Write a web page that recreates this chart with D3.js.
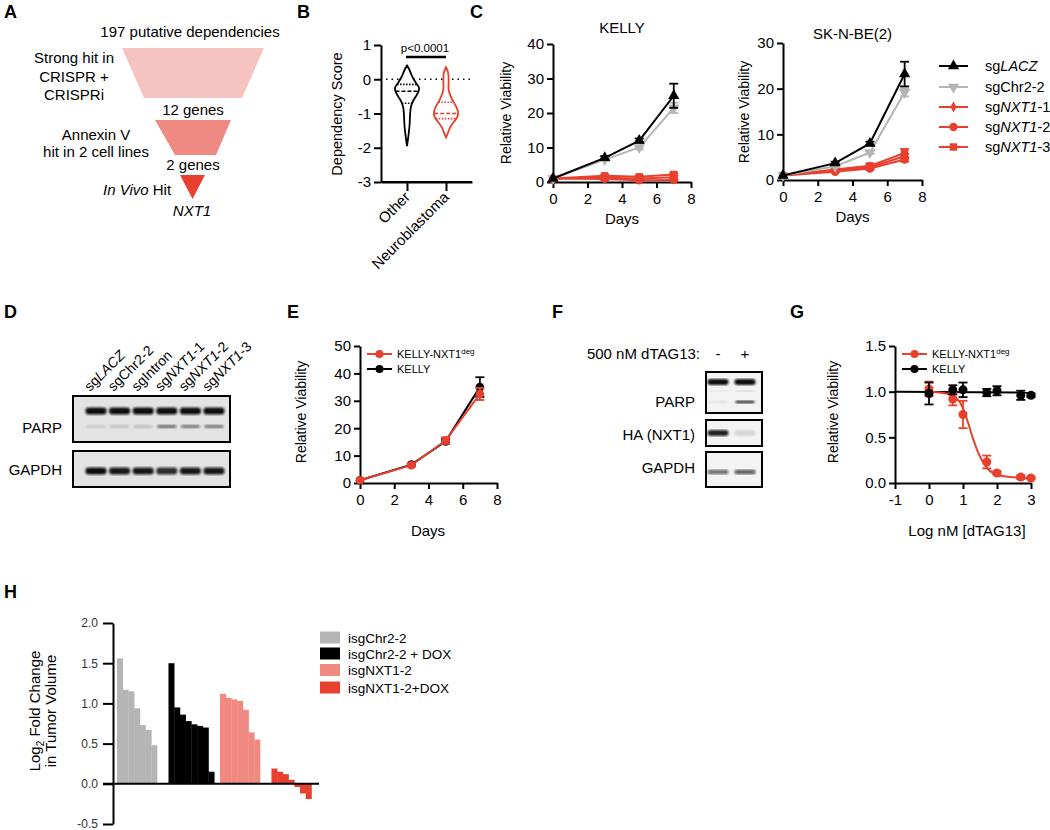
<!DOCTYPE html>
<html><head><meta charset="utf-8">
<script src="https://cdn.jsdelivr.net/npm/d3@7"></script>
<style>body{margin:0;background:#fff}svg{display:block}text{font-family:"Liberation Sans",Arial,sans-serif}</style>
</head><body>
<svg id="c" width="1050" height="830"></svg>
<script>
// ---------------- DATA ----------------
// Panel A funnel labels
const funnelTop = "197 putative dependencies";
const funnelStep1 = ["Strong hit in","CRISPR +","CRISPRi"];
const funnelCount1 = "12 genes";
const funnelStep2 = ["Annexin V","hit in 2 cell lines"];
const funnelCount2 = "2 genes";
// Panel B violins: [score, relative density]
const bCategories = ["Other","Neuroblastoma"];
const bOtherProfile = [[0.4,0],[0.3,0.17],[0.15,0.35],[0.05,0.48],[-0.1,0.74],[-0.25,1.0],[-0.35,0.96],[-0.5,0.74],[-0.65,0.48],[-0.8,0.33],[-1.0,0.26],[-1.3,0.22],[-1.5,0.17],[-1.7,0.1],[-1.95,0]];
const bNbProfile = [[0.35,0],[0.2,0.17],[0.0,0.22],[-0.3,0.22],[-0.5,0.4],[-0.65,0.6],[-0.8,0.85],[-0.95,1.0],[-1.1,0.95],[-1.25,0.65],[-1.4,0.35],[-1.55,0.18],[-1.7,0]];
const bOtherQuartiles = [-0.15,-0.35,-0.7];
const bNbQuartiles = [-0.67,-1.0,-1.15];
const bTicks = [1,0,-1,-2,-3];
const bPvalue = "p<0.0001";
// Panel C
const cDays = [0,3,5,7];
const cSeriesNames = ["sgLACZ","sgChr2-2","sgNXT1-1","sgNXT1-2","sgNXT1-3"];
const kellyLACZ = [1,7,12,25],      kellyLACZErr = [0,0.5,0.6,3.5];
const kellyChr2 = [1,6.5,10,21.5],  kellyChr2Err = [0,0.4,0.5,1.5];
const kellyNXT1_1 = [1,1.2,1.0,1.4], kellyNXT1_1Err = [0,0.3,0.3,0.4];
const kellyNXT1_2 = [1,0.9,0.5,0.6], kellyNXT1_2Err = [0,0.3,0.3,0.3];
const kellyNXT1_3 = [1,1.8,1.5,2.2], kellyNXT1_3Err = [0,0.3,0.3,0.4];
const skLACZ = [1,3.7,8.0,23.2],    skLACZErr = [0,0.3,0.4,2.7];
const skChr2 = [1,3.0,6.0,19.2],    skChr2Err = [0,0.2,0.3,0.9];
const skNXT1_1 = [1,2.1,2.8,5.2],   skNXT1_1Err = [0,0.2,0.3,0.5];
const skNXT1_2 = [1,1.8,2.5,4.5],   skNXT1_2Err = [0,0.2,0.3,0.5];
const skNXT1_3 = [1,2.3,3.1,5.9],   skNXT1_3Err = [0,0.3,0.4,0.9];
const kellyYTicks = [0,10,20,30,40];
const skYTicks = [0,10,20,30];
const dayTicks = [0,2,4,6,8];
// Panel D blot
const dLanes = ["sgLACZ","sgChr2-2","sgIntron","sgNXT1-1","sgNXT1-2","sgNXT1-3"];
const dParpFull = [1,1,1,1,1,1];
const dParpCleaved = [0.12,0.14,0.16,0.55,0.5,0.5];
const dGapdh = [1,0.95,0.95,0.85,0.95,0.95];
// Panel E
const eDays = [0,3,5,7];
const eDeg = [1,6.5,15.5,32.5], eDegErr = [0,0.5,1.2,2.2];
const eKelly = [1,6.7,15.2,35],   eKellyErr = [0,0.4,0.8,3.6];
const eYTicks = [0,10,20,30,40,50];
// Panel F blot
const fLanes = ["-","+"];
const fParpFull = [1,1];
const fParpCleaved = [0.06,0.8];
const fHA = [0.9,0.12];
const fGapdh = [0.55,0.62];
// Panel G
const gLogDose = [0,0.7,1.0,1.7,2.0,2.7,3.0];
const gDeg = [1.03,0.92,0.75,0.23,0.11,0.065,0.055];
const gDegErr = [0.08,0.07,0.15,0.07,0.02,0.02,0.01];
const gKelly = [0.98,1.02,1.02,0.99,1.01,0.96,0.96];
const gKellyErr = [0.12,0.05,0.08,0.04,0.05,0.05,0.02];
const gDegFitX = [0,0.5,0.8,1.0,1.15,1.3,1.45,1.6,1.8,2.0,2.4,3.0];
const gDegFitY = [1.0,0.98,0.93,0.82,0.66,0.48,0.33,0.22,0.13,0.09,0.065,0.055];
const gKellyFitX = [-1,3];
const gKellyFitY = [1.0,0.99];
const gXTicks = [-1,0,1,2,3];
const gYTicks = [0,0.5,1.0,1.5];
// Panel H waterfall
const hGroups = ["isgChr2-2","isgChr2-2 + DOX","isgNXT1-2","isgNXT1-2+DOX"];
const hChr2 = [1.56,1.17,1.15,0.94,0.73,0.67,0.48];
const hChr2Dox = [1.50,0.95,0.86,0.78,0.74,0.72,0.70,0.15];
const hNXT1 = [1.12,1.07,1.05,1.03,0.92,0.64,0.55];
const hNXT1Dox = [0.19,0.15,0.12,0.05,-0.04,-0.12,-0.19];
const hYTicks = [2.0,1.5,1.0,0.5,0.0,-0.5];

// ---------------- DRAW ----------------
const RED = "#e8402e", GRAY = "#b5b5b5", PINK = "#f08a80", LIGHTPINK = "#f6c4c0", MIDPINK = "#ef8a82";
const loc = d3.formatLocale({decimal: ".", thousands: ",", grouping: [3], currency: ["$", ""], minus: "-"});
const fmtInt = loc.format("d"), fmt1 = loc.format(".1f");
const svg = d3.select("#c");
svg.append("defs").append("filter").attr("id","blur").append("feGaussianBlur").attr("stdDeviation",0.9);

function T(g, x, y, s, o = {}) {
  const t = g.append("text").attr("x", x).attr("y", y).text(s)
    .attr("font-size", o.size || 15).attr("text-anchor", o.anchor || "start").attr("fill", o.fill || "#000");
  if (o.weight) t.attr("font-weight", o.weight);
  if (o.style) t.attr("font-style", o.style);
  if (o.transform) t.attr("transform", o.transform);
  return t;
}
function R(g, x, y, parts, o = {}) { // parts: [text, italic]
  const t = g.append("text").attr("x", x).attr("y", y)
    .attr("font-size", o.size || 15).attr("text-anchor", o.anchor || "start").attr("fill", o.fill || "#000");
  if (o.transform) t.attr("transform", o.transform);
  parts.forEach(p => { const s = t.append("tspan").text(p[0]); if (p[1]) s.attr("font-style","italic"); });
  return t;
}
function styleAxis(sel, fs = 15) {
  sel.attr("font-family", '"Liberation Sans",Arial,sans-serif').attr("font-size", fs);
  sel.select(".domain").attr("stroke", "#000").attr("stroke-width", 2);
  sel.selectAll(".tick line").attr("stroke", "#000").attr("stroke-width", 2);
  sel.selectAll(".tick text").attr("fill", "#000");
}
function letter(x, y, s) { T(svg, x, y, s, {size: 18, weight: "bold"}); }
function ylabel(cx, cy, s, size = 14) {
  T(svg, 0, 0, s, {size, anchor: "middle", transform: `translate(${cx + size*0.36},${cy}) rotate(-90)`});
}
function errBars(g, xs, ys, es, x, y, color, cap = 4.5, w = 1.8) {
  xs.forEach((d, i) => {
    if (!es[i]) return;
    const X = x(d), a = y(ys[i] - es[i]), b = y(ys[i] + es[i]);
    g.append("line").attr("x1", X).attr("x2", X).attr("y1", a).attr("y2", b).attr("stroke", color).attr("stroke-width", w);
    [a, b].forEach(v => g.append("line").attr("x1", X - cap).attr("x2", X + cap).attr("y1", v).attr("y2", v).attr("stroke", color).attr("stroke-width", w));
  });
}
const sym = (type, size) => d3.symbol().type(type).size(size)();

// ===== Panel A =====
letter(4, 18, "A");
const gA = svg.append("g");
T(gA, 190, 37, funnelTop, {anchor: "middle"});
gA.append("path").attr("d", "M122,48 L264,48 L242,98 L144,98 Z").attr("fill", LIGHTPINK);
funnelStep1.forEach((s, i) => T(gA, 74, 63 + i * 18.5, s, {anchor: "middle"}));
T(gA, 193, 115, funnelCount1, {anchor: "middle"});
gA.append("path").attr("d", "M155,120 L231,120 L216,155 L175,155 Z").attr("fill", MIDPINK);
funnelStep2.forEach((s, i) => T(gA, 96, 140 + i * 17, s, {anchor: "middle"}));
T(gA, 193, 170, funnelCount2, {anchor: "middle"});
gA.append("path").attr("d", "M180,175 L205,175 L192.5,199 Z").attr("fill", RED);
R(gA, 103, 195, [["In Vivo", true], [" Hit", false]]);
T(gA, 192, 216, "NXT1", {anchor: "middle", style: "italic"});

// ===== Panel B =====
letter(297, 18, "B");
const gB = svg.append("g");
const yB = d3.scaleLinear().domain([-3, 1]).range([182, 45]);
const xB = d3.scalePoint().domain(bCategories).range([381, 472]).padding(0.667);
gB.append("g").attr("transform", "translate(381,0)").call(d3.axisLeft(yB).tickValues(bTicks).tickFormat(fmtInt).tickSize(7).tickSizeOuter(0).tickPadding(3)).call(styleAxis);
gB.append("g").attr("transform", "translate(0,182)").call(d3.axisBottom(xB).tickSize(9).tickSizeOuter(0).tickFormat("")).call(styleAxis);
gB.append("line").attr("x1", 381).attr("x2", 472).attr("y1", 182).attr("y2", 182).attr("stroke", "#000").attr("stroke-width", 2);
bCategories.forEach(c => T(gB, xB(c) + 4, 198, c, {anchor: "end", transform: `rotate(-45,${xB(c) + 4},198)`}));
ylabel(337, 114, "Dependency Score", 14.5);
gB.append("line").attr("x1", 386).attr("x2", 472).attr("y1", yB(0)).attr("y2", yB(0)).attr("stroke", "#000").attr("stroke-width", 1.5).attr("stroke-dasharray", "1.5,4");
T(gB, 425, 52, bPvalue, {anchor: "middle", size: 11.5});
gB.append("line").attr("x1", 406).attr("x2", 446).attr("y1", 57).attr("y2", 57).attr("stroke", "#000").attr("stroke-width", 2.5);
function widthAt(profile, s) {
  for (let i = 0; i < profile.length - 1; i++) {
    const [s0, w0] = profile[i], [s1, w1] = profile[i + 1];
    if (s <= s0 && s >= s1) return w0 + (w1 - w0) * (s0 - s) / (s0 - s1);
  }
  return 0;
}
function violin(profile, quart, cat, color) {
  const cx = xB(cat), W = 12;
  const area = d3.area().curve(d3.curveCatmullRom).y(d => yB(d[0])).x0(d => cx - d[1] * W).x1(d => cx + d[1] * W);
  gB.append("path").attr("d", area(profile)).attr("fill", "#fff").attr("stroke", color).attr("stroke-width", 1.8);
  quart.forEach((q, i) => {
    const w = widthAt(profile, q) * W;
    gB.append("line").attr("x1", cx - w).attr("x2", cx + w).attr("y1", yB(q)).attr("y2", yB(q))
      .attr("stroke", color).attr("stroke-width", 1.6).attr("stroke-dasharray", i === 1 ? "4,2" : "1.5,1.5");
  });
}
violin(bOtherProfile, bOtherQuartiles, "Other", "#000");
violin(bNbProfile, bNbQuartiles, "Neuroblastoma", RED);

// ===== Panel C =====
letter(470, 18, "C");
function growth(x, y, yTicks, title, titleY, series) {
  const g = svg.append("g");
  g.append("g").attr("transform", `translate(${x.range()[0]},0)`).call(d3.axisLeft(y).tickValues(yTicks).tickFormat(fmtInt).tickSize(6).tickSizeOuter(0).tickPadding(3)).call(styleAxis);
  g.append("g").attr("transform", `translate(0,${y.range()[0]})`).call(d3.axisBottom(x).tickValues(dayTicks).tickFormat(fmtInt).tickSize(6).tickSizeOuter(0).tickPadding(5)).call(styleAxis);
  T(g, (x.range()[0] + x.range()[1]) / 2, titleY, title, {anchor: "middle"});
  T(g, (x.range()[0] + x.range()[1]) / 2, y.range()[0] + 42, "Days", {anchor: "middle"});
  const line = d3.line().x((d, i) => x(cDays[i])).y(d => y(d));
  series.forEach(s => {
    g.append("path").attr("d", line(s.v)).attr("fill", "none").attr("stroke", s.c).attr("stroke-width", 2);
    errBars(g, cDays, s.v, s.e, x, y, s.c);
    s.v.forEach((v, i) => g.append("path").attr("d", sym(s.t, s.sz)).attr("fill", s.c)
      .attr("transform", `translate(${x(cDays[i])},${y(v)}) rotate(${s.rot || 0})`));
  });
}
const symSpecs = [
  {t: d3.symbolTriangle, c: "#000", sz: 55},
  {t: d3.symbolTriangle, c: GRAY, sz: 55, rot: 180},
  {t: d3.symbolDiamond, c: RED, sz: 35},
  {t: d3.symbolCircle, c: RED, sz: 55},
  {t: d3.symbolSquare, c: RED, sz: 55}
];
const kellyVals = [kellyLACZ, kellyChr2, kellyNXT1_1, kellyNXT1_2, kellyNXT1_3];
const kellyErrs = [kellyLACZErr, kellyChr2Err, kellyNXT1_1Err, kellyNXT1_2Err, kellyNXT1_3Err];
const skVals = [skLACZ, skChr2, skNXT1_1, skNXT1_2, skNXT1_3];
const skErrs = [skLACZErr, skChr2Err, skNXT1_1Err, skNXT1_2Err, skNXT1_3Err];
const order = [4, 3, 2, 1, 0];
const xK = d3.scaleLinear().domain([0, 8]).range([553, 691]);
const yK = d3.scaleLinear().domain([0, 40]).range([182, 44]);
growth(xK, yK, kellyYTicks, "KELLY", 33, order.map(i => Object.assign({v: kellyVals[i], e: kellyErrs[i]}, symSpecs[i])));
ylabel(506, 113, "Relative Viability");
const xS = d3.scaleLinear().domain([0, 8]).range([783, 922]);
const yS = d3.scaleLinear().domain([0, 30]).range([180, 43]);
growth(xS, yS, skYTicks, "SK-N-BE(2)", 39, order.map(i => Object.assign({v: skVals[i], e: skErrs[i]}, symSpecs[i])));
ylabel(744, 112, "Relative Viability");
// legend C
const legParts = [[["sg", 0], ["LACZ", 1]], [["sgChr2-2", 0]], [["sg", 0], ["NXT1", 1], ["-1", 0]], [["sg", 0], ["NXT1", 1], ["-2", 0]], [["sg", 0], ["NXT1", 1], ["-3", 0]]];
const legY = [66, 87, 107, 127, 147];
cSeriesNames.forEach((n, i) => {
  const s = symSpecs[i], yy = legY[i];
  svg.append("line").attr("x1", 939).attr("x2", 968).attr("y1", yy).attr("y2", yy).attr("stroke", s.c).attr("stroke-width", 2);
  svg.append("path").attr("d", sym(s.t, s.sz)).attr("fill", s.c).attr("transform", `translate(953.5,${yy}) rotate(${s.rot || 0})`);
  R(svg, 985, yy + 5, legParts[i], {size: 14.5});
});

// ===== Panel D =====
letter(4, 318, "D");
const gD = svg.append("g");
const xD = d3.scalePoint().domain(dLanes).range([96, 214]);
gD.append("rect").attr("x", 73).attr("y", 396).attr("width", 157).attr("height", 46).attr("fill", "#e3e3e3").attr("stroke", "#000").attr("stroke-width", 2);
gD.append("rect").attr("x", 73).attr("y", 451).attr("width", 157).attr("height", 36).attr("fill", "#e3e3e3").attr("stroke", "#000").attr("stroke-width", 2);
function band(g, cx, cy, w, h, op) {
  g.append("rect").attr("x", cx - w / 2).attr("y", cy - h / 2).attr("width", w).attr("height", h).attr("rx", h / 2.2)
    .attr("fill", "#111").attr("opacity", op).attr("filter", "url(#blur)");
}
dLanes.forEach((l, i) => {
  band(gD, xD(l), 411, 21, 7, dParpFull[i]);
  band(gD, xD(l), 426.5, 19, 2.8, dParpCleaved[i]);
  band(gD, xD(l), 471, 21, 7, dGapdh[i]);
});
const dLabelParts = [[["sg", 0], ["LACZ", 1]], [["sgChr2-2", 0]], [["sgIntron", 0]], [["sg", 0], ["NXT1", 1], ["-1", 0]], [["sg", 0], ["NXT1", 1], ["-2", 0]], [["sg", 0], ["NXT1", 1], ["-3", 0]]];
dLanes.forEach((l, i) => R(gD, xD(l) - 6, 392, dLabelParts[i], {size: 14, transform: `rotate(-45,${xD(l) - 6},392)`}));
T(gD, 62, 433, "PARP", {anchor: "end"});
T(gD, 62, 475, "GAPDH", {anchor: "end"});

// ===== Panel E =====
letter(287, 318, "E");
const gE = svg.append("g");
const xE = d3.scaleLinear().domain([0, 8]).range([360, 497]);
const yE = d3.scaleLinear().domain([0, 50]).range([483, 346]);
gE.append("g").attr("transform", "translate(360,0)").call(d3.axisLeft(yE).tickValues(eYTicks).tickFormat(fmtInt).tickSize(6).tickSizeOuter(0).tickPadding(3)).call(styleAxis);
gE.append("g").attr("transform", "translate(0,483)").call(d3.axisBottom(xE).tickValues(dayTicks).tickFormat(fmtInt).tickSize(6).tickSizeOuter(0).tickPadding(5)).call(styleAxis);
T(gE, 428, 536, "Days", {anchor: "middle"});
ylabel(301, 412, "Relative Viability");
const lineE = d3.line().x((d, i) => xE(eDays[i])).y(d => yE(d));
[[eKelly, eKellyErr, "#000"], [eDeg, eDegErr, RED]].forEach(([v, e, c]) => {
  gE.append("path").attr("d", lineE(v)).attr("fill", "none").attr("stroke", c).attr("stroke-width", 2);
  errBars(gE, eDays, v, e, xE, yE, c);
  v.forEach((d, i) => gE.append("circle").attr("cx", xE(eDays[i])).attr("cy", yE(d)).attr("r", 4.3).attr("fill", c));
});
function smallLegend(g, x, y, c, parts) {
  g.append("line").attr("x1", x).attr("x2", x + 25).attr("y1", y).attr("y2", y).attr("stroke", c).attr("stroke-width", 2);
  g.append("circle").attr("cx", x + 12.5).attr("cy", y).attr("r", 4).attr("fill", c);
  const t = g.append("text").attr("x", x + 30).attr("y", y + 4).attr("font-size", 11);
  parts.forEach(p => { const s = t.append("tspan").text(p[0]); if (p[1]) s.attr("dy", -4).attr("font-size", 8); });
}
smallLegend(gE, 367, 354, RED, [["KELLY-NXT1", 0], ["deg", 1]]);
smallLegend(gE, 367, 369, "#000", [["KELLY", 0]]);

// ===== Panel F =====
letter(552, 318, "F");
const gF = svg.append("g");
const xF = d3.scalePoint().domain(fLanes).range([718, 745]);
T(gF, 700, 359, "500 nM dTAG13:", {anchor: "end"});
fLanes.forEach(l => T(gF, xF(l), 359, l, {anchor: "middle"}));
[[372, 41], [420, 26], [452, 35]].forEach(([y, h]) =>
  gF.append("rect").attr("x", 706).attr("y", y).attr("width", 56).attr("height", h).attr("fill", "#f3f3f3").attr("stroke", "#000").attr("stroke-width", 2));
fLanes.forEach((l, i) => {
  band(gF, xF(l), 382, 21, 6, fParpFull[i]);
  band(gF, xF(l), 391, 19, 1.5, 0.08 + 0.1 * i);
  band(gF, xF(l), 402, 19, 2.8, fParpCleaved[i]);
  band(gF, xF(l), 433, 21, 6, fHA[i]);
  band(gF, xF(l), 472, 21, 5, fGapdh[i]);
});
T(gF, 695, 407, "PARP", {anchor: "end"});
T(gF, 695, 440, "HA (NXT1)", {anchor: "end"});
T(gF, 695, 473, "GAPDH", {anchor: "end"});

// ===== Panel G =====
letter(790, 318, "G");
const gG = svg.append("g");
const xG = d3.scaleLinear().domain([-1, 3]).range([895, 1031]);
const yG = d3.scaleLinear().domain([0, 1.5]).range([483, 346]);
gG.append("g").attr("transform", "translate(895,0)").call(d3.axisLeft(yG).tickValues(gYTicks).tickFormat(fmt1).tickSize(6).tickSizeOuter(0).tickPadding(3)).call(styleAxis);
gG.append("g").attr("transform", "translate(0,483)").call(d3.axisBottom(xG).tickValues(gXTicks).tickFormat(fmtInt).tickSize(6).tickSizeOuter(0).tickPadding(5)).call(styleAxis);
T(gG, 967, 536, "Log nM [dTAG13]", {anchor: "middle"});
ylabel(833, 412, "Relative Viability");
const fitLine = d3.line().curve(d3.curveMonotoneX);
gG.append("path").attr("d", fitLine(gKellyFitX.map((x, i) => [xG(x), yG(gKellyFitY[i])]))).attr("fill", "none").attr("stroke", "#000").attr("stroke-width", 2);
gG.append("path").attr("d", fitLine(gDegFitX.map((x, i) => [xG(x), yG(gDegFitY[i])]))).attr("fill", "none").attr("stroke", RED).attr("stroke-width", 2);
errBars(gG, gLogDose, gDeg, gDegErr, xG, yG, RED, 4.5);
gLogDose.forEach((x, i) => gG.append("circle").attr("cx", xG(x)).attr("cy", yG(gDeg[i])).attr("r", 4.5).attr("fill", RED));
errBars(gG, gLogDose, gKelly, gKellyErr, xG, yG, "#000", 4.5);
gLogDose.forEach((x, i) => gG.append("circle").attr("cx", xG(x)).attr("cy", yG(gKelly[i])).attr("r", 4.5).attr("fill", "#000"));
smallLegend(gG, 902, 354, RED, [["KELLY-NXT1", 0], ["deg", 1]]);
smallLegend(gG, 902, 369, "#000", [["KELLY", 0]]);

// ===== Panel H =====
letter(4, 598, "H");
const gH = svg.append("g");
const yH = d3.scaleLinear().domain([-0.5, 2.0]).range([824, 623]);
const hSets = [hChr2, hChr2Dox, hNXT1, hNXT1Dox];
const hColors = [GRAY, "#000", PINK, RED];
const hGapBefore = [0, 2, 1, 2];
const slots = [];
hSets.forEach((s, gi) => {
  for (let k = 0; k < hGapBefore[gi]; k++) slots.push({gap: true, id: `gap${gi}_${k}`});
  s.forEach((v, i) => slots.push({id: `${gi}_${i}`, v, c: hColors[gi]}));
});
const xH = d3.scaleBand().domain(slots.map(d => d.id)).range([117, 117 + slots.length * 5.72]).paddingInner(0);
gH.selectAll("rect.bar").data(slots.filter(d => !d.gap)).join("rect").attr("class", "bar")
  .attr("x", d => xH(d.id)).attr("width", xH.bandwidth() + 0.3)
  .attr("y", d => yH(Math.max(0, d.v))).attr("height", d => Math.abs(yH(d.v) - yH(0))).attr("fill", d => d.c);
const axH = gH.append("g").attr("transform", "translate(113,0)").call(d3.axisLeft(yH).tickValues(hYTicks).tickFormat(fmt1).tickSize(10).tickSizeOuter(0).tickPadding(5));
styleAxis(axH, 12);
axH.selectAll(".tick text").attr("fill", "#333");
gH.append("line").attr("x1", 103).attr("x2", 319).attr("y1", yH(0)).attr("y2", yH(0)).attr("stroke", "#000").attr("stroke-width", 2);
const hl = gH.append("text").attr("font-size", 15).attr("text-anchor", "middle").attr("transform", "translate(40,711) rotate(-90)");
hl.append("tspan").text("Log");
hl.append("tspan").text("2").attr("font-size", 10).attr("dy", 4);
hl.append("tspan").text(" Fold Change").attr("dy", -4);
T(gH, 0, 0, "in Tumor Volume", {anchor: "middle", transform: "translate(56,711) rotate(-90)"});
const hLegY = [637.5, 653.5, 670, 687.5];
hGroups.forEach((n, i) => {
  gH.append("rect").attr("x", 320).attr("y", hLegY[i] - 6).attr("width", 20).attr("height", 12).attr("fill", hColors[i]);
  T(gH, 348, hLegY[i] + 5, n, {size: 13.5});
});
</script>
</body></html>
